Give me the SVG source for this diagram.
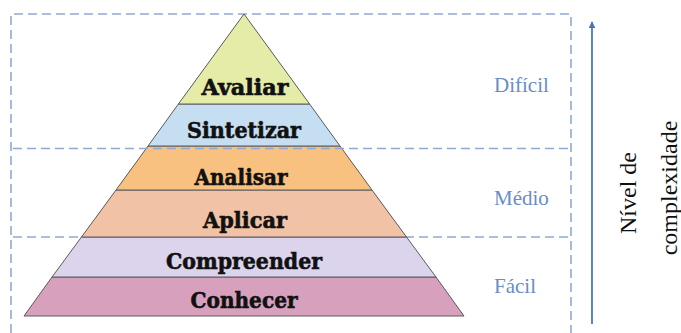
<svg xmlns="http://www.w3.org/2000/svg" width="681" height="333" viewBox="0 0 681 333">
<style>
.dash{fill:none;stroke:#8eaad3;stroke-width:1.6;stroke-dasharray:9 5}
.lvl{stroke:#5a5a5a;stroke-width:1}
.lbl{font-weight:bold;font-size:22px;fill:#111;stroke:#111;stroke-width:0.6;text-anchor:middle}
.side{font-size:21px;fill:#6a8cc6}
.axis{font-size:24px;fill:#111;text-anchor:middle}
</style>
<defs>
<marker id="ah" viewBox="0 0 10 10" refX="9" refY="5" markerWidth="7" markerHeight="7" markerUnits="userSpaceOnUse" orient="auto">
<path d="M0,0 L10,5 L0,10 z" fill="#4a76c0"/>
</marker>
</defs>
<rect width="681" height="333" fill="#fff"/>
<g id="frame">
<path class="dash" d="M11,333 V14 H571 V333"/>
<path class="dash" d="M13,237 H571"/>
</g>
<g id="pyramid" font-family="DejaVu Serif, serif">
<g id="conhecer"><polygon class="lvl" fill="#d7a1be" points="52,277 436,277 464,316 24,316"/><text class="lbl" x="244" y="308" textLength="107" lengthAdjust="spacingAndGlyphs">Conhecer</text></g>
<g id="compreender"><polygon class="lvl" fill="#dbd4ec" points="81.5,237 406.5,237 436,277 52,277"/><text class="lbl" x="244" y="269" textLength="156" lengthAdjust="spacingAndGlyphs">Compreender</text></g>
<g id="aplicar"><polygon class="lvl" fill="#f1c2a6" points="116,190 372,190 406.5,237 81.5,237"/><text class="lbl" x="245" y="228" textLength="84" lengthAdjust="spacingAndGlyphs">Aplicar</text></g>
<g id="analisar"><polygon class="lvl" fill="#f9c17f" points="148,146 340,146 372,190 116,190"/><text class="lbl" x="241" y="185" textLength="93" lengthAdjust="spacingAndGlyphs">Analisar</text></g>
<g id="sintetizar"><polygon class="lvl" fill="#c6def1" points="178.4,104 309.6,104 340,146 148,146"/><text class="lbl" x="244" y="138" textLength="114" lengthAdjust="spacingAndGlyphs">Sintetizar</text></g>
<g id="avaliar"><polygon class="lvl" fill="#e5eca8" points="244,14 309.6,104 178.4,104"/><text class="lbl" x="245" y="95" textLength="87" lengthAdjust="spacingAndGlyphs">Avaliar</text></g>
</g>
<g id="mid-line"><path class="dash" d="M13,148.5 H571"/></g>
<g id="levels" font-family="Liberation Serif, Times New Roman, serif">
<text id="dificil" class="side" x="494" y="92">Difícil</text>
<text id="medio" class="side" x="494" y="205">Médio</text>
<text id="facil" class="side" x="494" y="293">Fácil</text>
</g>
<g id="connectors">
<line x1="592" y1="324" x2="592" y2="22" stroke="#4a76c0" stroke-width="1.8" marker-end="url(#ah)"/>
</g>
<g id="axis-label" font-family="Liberation Serif, Times New Roman, serif">
<text class="axis" transform="translate(636,193) rotate(-90)">Nível de</text>
<text class="axis" transform="translate(677,188) rotate(-90)">complexidade</text>
</g>
</svg>
